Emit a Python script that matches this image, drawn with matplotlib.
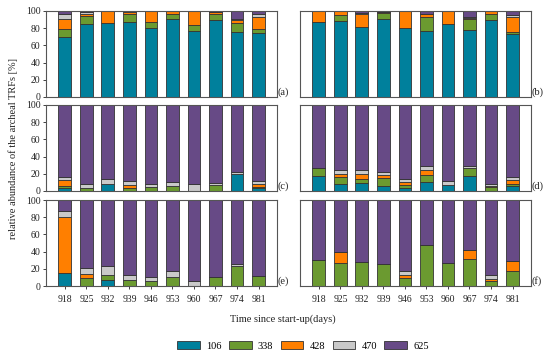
import matplotlib
matplotlib.use("Agg")
import matplotlib.pyplot as plt
import numpy as np
from matplotlib.patches import Patch

plt.rcParams['font.family'] = ['Liberation Serif', 'DejaVu Serif']

days = ["918", "925", "932", "939", "946", "953", "960", "967", "974", "981"]
trfs = ["106", "338", "428", "470", "625"]
colors = ["#00809c", "#6b9a30", "#ff7f00", "#c9c9c9", "#674a86"]

# each panel: rows = TRF 106, 338, 428, 470, 625 (percent)
panel_a = [
    [70, 85, 86, 87, 80, 91, 77, 90, 75, 74],
    [9, 9.5, 0, 10, 7, 6, 7, 6, 10.5, 4.5],
    [12, 1.5, 14, 2, 13, 3, 16, 3, 4.5, 14],
    [5, 2.5, 0, 0.5, 0, 0, 0, 0, 0.5, 4],
    [4, 1.5, 0, 0.5, 0, 0, 0, 1, 9.5, 3.5],
]
panel_b = [
    [87, 88, 81, 91, 80, 77, 85, 78, 90, 73],
    [0, 7, 0, 7, 0, 16, 0, 13, 7, 2],
    [13, 5, 15.5, 1, 20, 4, 15, 0.5, 3, 17.5],
    [0, 0, 1, 0, 0, 0, 0, 1.5, 0, 3],
    [0, 0, 2.5, 1, 0, 3, 0, 7, 0, 4.5],
]
panel_c = [
    [4, 0, 8, 0, 0, 0, 0, 0, 19.5, 3],
    [2, 3.5, 0, 4, 5, 5.5, 0, 7, 0, 2],
    [7, 0, 0, 3.5, 0, 0, 0, 0, 0, 3],
    [3.5, 4.5, 6, 4, 3.5, 4.5, 8.5, 2.5, 2.5, 4],
    [83.5, 92, 86, 88.5, 91.5, 90, 91.5, 90.5, 78, 88],
]
panel_d = [
    [18, 8.5, 9, 5.5, 3.5, 10, 7.5, 17.5, 0, 5.5],
    [9, 8, 5, 9.5, 4, 9, 0, 9, 4.5, 3],
    [0, 3.5, 5.5, 3.5, 3, 5, 0, 0.5, 1, 4],
    [0, 4.5, 4.5, 4, 3.5, 5, 4.5, 2, 2.5, 4],
    [73, 75.5, 76, 77.5, 86, 71, 88, 71, 92, 83.5],
]
panel_e = [
    [15, 0, 7, 0, 0, 0, 0, 0, 0, 0],
    [0, 9.5, 6, 7.5, 6, 10.5, 0, 10, 23, 12],
    [65, 5, 0, 0, 0, 0, 0, 0, 0, 0],
    [7, 6.5, 10.5, 5, 4, 7.5, 6, 0, 3, 0],
    [13, 79, 76.5, 87.5, 90, 82, 94, 90, 74, 88],
]
panel_f = [
    [0, 0, 0, 0, 0, 0, 0, 0, 0, 0],
    [30.5, 26.5, 28, 25.5, 9, 47.5, 27, 31.5, 5.5, 17],
    [0, 12.5, 0, 0, 3.5, 0, 0, 10.5, 2.5, 12],
    [0, 0, 0, 0, 4.5, 0, 0, 0, 4.5, 0],
    [69.5, 61, 72, 74.5, 83, 52.5, 73, 58, 87.5, 71],
]
panels = [panel_a, panel_b, panel_c, panel_d, panel_e, panel_f]
labels = ["(a)", "(b)", "(c)", "(d)", "(e)", "(f)"]

W, H = 550, 357
fig = plt.figure(figsize=(5.5, 3.57), dpi=100)

lefts = [46, 300]
width = 231
tops = [11, 105, 200]
height = 86

x = np.arange(len(days))
edge = "#333333"
for i, pdata in enumerate(panels):
    r, c = divmod(i, 2)
    ax = fig.add_axes([lefts[c] / W, 1 - (tops[r] + height) / H, width / W, height / H])
    bottom = np.zeros(len(days))
    for k, vals in enumerate(pdata):
        vals = np.array(vals, dtype=float)
        ax.bar(x, vals, bottom=bottom, width=0.6, color=colors[k],
               edgecolor=edge, linewidth=0.6)
        bottom += vals
    ax.set_xlim(-0.88, 9.86)
    ax.set_ylim(0, 100)
    for s in ax.spines.values():
        s.set_color("#555555")
        s.set_linewidth(0.8)
    ax.set_yticks([0, 20, 40, 60, 80, 100])
    if c == 0:
        ax.tick_params(axis='y', labelsize=7, length=2.5, width=0.6, pad=1.5, colors="#222222")
    else:
        ax.tick_params(axis='y', left=False, labelleft=False)
    ax.set_xticks(x)
    if r == 2:
        ax.set_xticklabels(days)
        ax.tick_params(axis='x', labelsize=7, length=2.5, width=0.6, pad=4, colors="#222222")
    else:
        ax.tick_params(axis='x', bottom=False, labelbottom=False)
    ax.text(1.003, 0.0, labels[i], transform=ax.transAxes, ha='left', va='bottom',
            fontsize=7.5, color="#222222")

fig.text(13 / W, 1 - 148 / H, "relative abundance of the archeal TRFs [%]",
         rotation=90, ha='center', va='center', fontsize=7.5, color="#222222")
fig.text(283 / W, 1 - 319 / H, "Time since start-up(days)", ha='center', va='center',
         fontsize=7.5, color="#222222")

handles = [Patch(facecolor=colors[k], edgecolor=edge, linewidth=0.6, label=trfs[k])
           for k in range(len(trfs))]
fig.legend(handles=handles, loc='center', bbox_to_anchor=(303 / W, 1 - 346 / H),
           ncol=5, frameon=False, fontsize=7.5, handlelength=2.2, handleheight=0.7,
           handletextpad=0.6, columnspacing=0.7)

fig.savefig("out.png", dpi=100)
